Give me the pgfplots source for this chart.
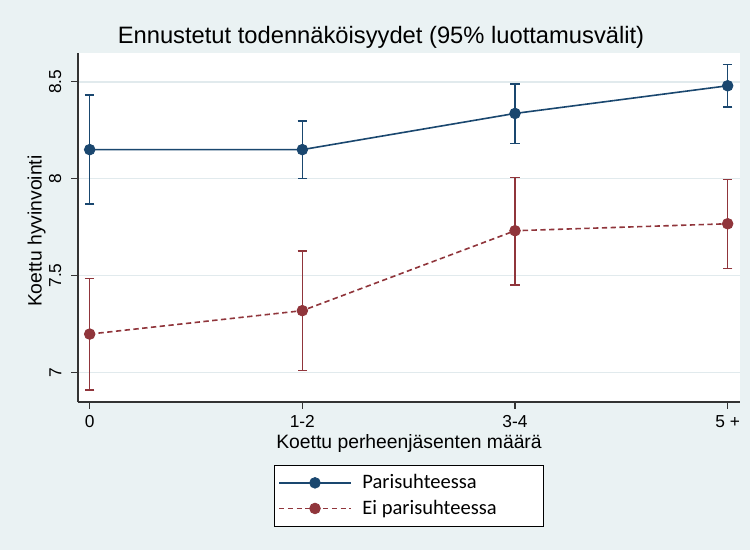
\documentclass[border=0pt]{standalone}
\usepackage{fontspec}
\setmainfont{Liberation Sans}
\newfontfamily\legfont{Carlito}
\usepackage{pgfplots}
\pgfplotsset{compat=1.18}
\definecolor{bg}{RGB}{234,242,243}
\definecolor{navy}{RGB}{26,71,111}
\definecolor{maroon}{RGB}{144,53,59}
\definecolor{gridc}{RGB}{225,234,237}
\begin{document}
\begin{tikzpicture}
\fill[bg] (0,0) rectangle (562.5pt,-412.5pt);
\useasboundingbox (0,0) rectangle (562.5pt,-412.5pt);
\node[font=\fontsize{17.8}{20}\selectfont] at (285.75pt,-27.75pt) {Ennustetut todennäköisyydet (95\% luottamusvälit)};
\begin{axis}[
 at={(58.5pt,-301.5pt)}, anchor=south west,
 width=496.5pt, height=262pt, scale only axis,
 xmin=-0.055, xmax=3.058, ymin=6.846, ymax=8.651,
 axis background/.style={fill=white},
 axis x line*=bottom, axis y line*=left,
 axis line style={black!80, line width=0.8pt, -},
 xtick={0,1,2,3}, xticklabels={0,1-2,3-4,5 +},
 ytick={7,7.5,8,8.5}, yticklabels={7,7.5,8,8.5},
 tick align=outside, major tick length=5pt,
 tick style={black!80, line width=0.8pt},
 ymajorgrids, grid style={gridc, line width=1pt},
 ticklabel style={font=\fontsize{13}{15}\selectfont},
 xticklabel style={yshift=-1.5pt},
 yticklabel style={xshift=-4pt, rotate=90, anchor=south},
 xlabel={Koettu perheenjäsenten määrä},
 ylabel={Koettu hyvinvointi},
 every axis x label/.style={at={(axis description cs:0.5,-0.12)}, anchor=center, font=\fontsize{14.5}{16}\selectfont},
 every axis y label/.style={at={(axis description cs:-0.0625,0.489)}, rotate=90, anchor=center, font=\fontsize{14.5}{16}\selectfont},
 clip=false,
 legend style={at={(axis description cs:0.5,0)}, anchor=north, yshift=-47.25pt, draw=black, fill=white, line width=0.6pt, font=\legfont\fontsize{15.4}{17}\selectfont, legend cell align=left, row sep=3pt, inner xsep=3pt, inner ysep=5pt,
   /tikz/every odd column/.style={column sep=6pt}},
 legend image code/.code={\draw[mark repeat=2,mark phase=2,#1] plot coordinates {(0pt,0pt) (27pt,0pt) (54pt,0pt)};},
]
\addplot[navy, line width=1.2pt, mark=*, mark size=4pt, mark options={solid, fill=navy, line width=0.6pt},
  error bars/.cd, y dir=both, y explicit,
  error bar style={line width=1.1pt, navy, solid},
  error mark options={rotate=90, mark size=3.6pt, line width=1.1pt, navy}]
 coordinates {
 (0,8.150) += (0,0.282) -= (0,0.280)
 (1,8.150) += (0,0.147) -= (0,0.149)
 (2,8.337) += (0,0.151) -= (0,0.154)
 (3,8.480) += (0,0.111) -= (0,0.109)
 };
\addlegendentry{\makebox[131pt][l]{Parisuhteessa}}
\addplot[maroon, line width=1.2pt, dash pattern=on 4pt off 2.6pt, mark=*, mark size=4pt, mark options={solid, fill=maroon, line width=0.6pt},
  error bars/.cd, y dir=both, y explicit,
  error bar style={line width=1.1pt, maroon, solid},
  error mark options={rotate=90, mark size=3.6pt, line width=1.1pt, maroon}]
 coordinates {
 (0,7.197) += (0,0.286) -= (0,0.290)
 (1,7.318) += (0,0.309) -= (0,0.308)
 (2,7.731) += (0,0.276) -= (0,0.280)
 (3,7.767) += (0,0.230) -= (0,0.230)
 };
\addlegendentry{\makebox[131pt][l]{Ei parisuhteessa}}
\end{axis}
\end{tikzpicture}
\end{document}
